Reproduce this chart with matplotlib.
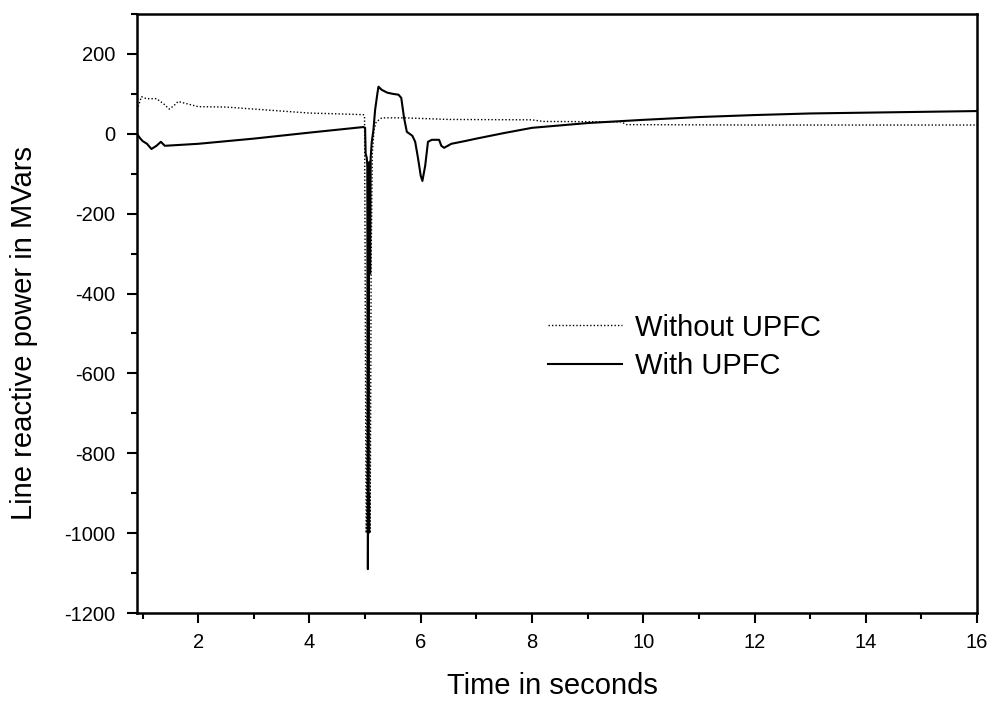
import numpy as np
import matplotlib.pyplot as plt
from matplotlib.ticker import MultipleLocator

plt.rcParams['font.family'] = ['Liberation Sans', 'DejaVu Sans']
plt.rcParams['axes.unicode_minus'] = False

# Line reactive power without UPFC (MVars)
t_without = [0.9, 0.95, 0.98, 1.07, 1.25, 1.38, 1.48, 1.56, 1.64, 2.0, 2.5, 3.0, 3.5,
             4.0, 4.5, 4.97, 4.99, 5.0, 5.01, 5.02, 5.03, 5.04, 5.06, 5.08, 5.09,
             5.1, 5.11, 5.13, 5.16, 5.2, 5.3, 5.7, 6.5, 8.0, 8.2, 9.6, 9.7, 12.0, 16.0]
q_without = [60, 80, 93, 88, 88, 75, 62, 70, 81, 68, 67, 62, 57,
             52, 50, 48, 45, -300, -700, -1000, -950, -400, -200, -700, -1000,
             -700, -300, -50, 10, 30, 40, 40, 36, 35, 31, 30, 23, 22, 22]

# Line reactive power with UPFC (MVars)
t_with = [0.9, 0.95, 1.0, 1.08, 1.16, 1.25, 1.33, 1.4, 2.0, 3.0, 4.0, 4.97,
          5.0, 5.01, 5.03, 5.04, 5.045, 5.05, 5.055, 5.06, 5.065, 5.07, 5.075,
          5.08, 5.09, 5.1, 5.12, 5.15, 5.18, 5.22, 5.24, 5.3, 5.4, 5.5, 5.6,
          5.65, 5.7, 5.75, 5.85, 5.9, 5.95, 6.0, 6.03, 6.08, 6.13, 6.2, 6.33,
          6.37, 6.42, 6.55, 6.8, 7.0, 7.5, 8.0, 9.0, 10.0, 11.0, 12.0, 13.0,
          14.0, 15.0, 16.0]
q_with = [0, -10, -18, -25, -38, -30, -20, -30, -25, -12, 3, 17,
          15, -50, -60, -80, -600, -1090, -900, -1000, -850, -350, -100,
          -70, -350, -60, -20, 10, 60, 100, 118, 110, 103, 100, 98,
          90, 40, 5, -5, -20, -60, -105, -118, -80, -20, -15, -15,
          -30, -35, -25, -18, -12, 2, 15, 27, 35, 42, 47, 51,
          53, 55, 57]

fig = plt.figure(figsize=(9.89, 7.01), dpi=100)
ax = fig.add_axes([0.1385, 0.1255, 0.8495, 0.8545])

ax.plot(t_without, q_without, color='black', linestyle=(0, (1, 1.5)), linewidth=1.0,
        label='Without UPFC')
ax.plot(t_with, q_with, color='black', linestyle='-', linewidth=1.5, label='With UPFC')

ax.set_xlim(0.9, 16)
ax.set_ylim(-1200, 300)
ax.xaxis.set_major_locator(MultipleLocator(2))
ax.xaxis.set_minor_locator(MultipleLocator(1))
ax.yaxis.set_minor_locator(MultipleLocator(100))
ax.set_yticks(np.arange(-1200, 201, 200))

ax.tick_params(which='both', direction='out', top=False, right=False, width=1.5)
ax.tick_params(which='major', length=7.5, labelsize=14.5)
ax.tick_params(which='minor', length=4.5)
ax.tick_params(axis='x', which='major', pad=7)
ax.tick_params(axis='y', which='major', pad=8)
for s in ax.spines.values():
    s.set_linewidth(1.8)

ax.set_xlabel('Time in seconds', fontsize=21)
ax.xaxis.set_label_coords(0.495, -0.098)
ax.set_ylabel('Line reactive power in MVars', fontsize=21)
ax.yaxis.set_label_coords(-0.118, 0.467)

ax.legend(loc='upper left', bbox_to_anchor=(0.489, 0.5), frameon=False,
          fontsize=21, handlelength=2.55, handletextpad=0.45, labelspacing=0.35,
          borderpad=0, borderaxespad=0)

fig.savefig('out.png', dpi=100)
